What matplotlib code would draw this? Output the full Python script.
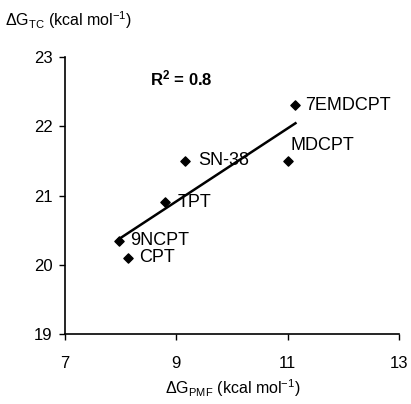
import numpy as np
import matplotlib
matplotlib.use("Agg")
import matplotlib.pyplot as plt

plt.rcParams['font.family'] = ['Liberation Sans', 'DejaVu Sans']
plt.rcParams['mathtext.fontset'] = 'custom'
plt.rcParams['mathtext.rm'] = 'Liberation Sans'
plt.rcParams['mathtext.it'] = 'Liberation Sans'
plt.rcParams['mathtext.bf'] = 'Liberation Sans:bold'

# 数据
names = ['CPT', '9NCPT', 'TPT', 'SN-38', 'MDCPT', '7EMDCPT']
dg_pmf = [8.14, 7.97, 8.80, 9.15, 11.00, 11.14]
dg_tc = [20.10, 20.35, 20.90, 21.50, 21.50, 22.30]
label_offsets = [(8, 0), (8, 0), (9, 0), (10, 0), (2, 11), (7, 0)]

fig = plt.figure(figsize=(4.11, 4.04), dpi=100)
ax = fig.add_axes([65 / 411, 1 - 334 / 404, 334 / 411, 277 / 404])

ax.scatter(dg_pmf, dg_tc, marker='D', s=22, color='black', zorder=3)

# 线性拟合
x = np.array(dg_pmf)
y = np.array(dg_tc)
k, b = np.polyfit(x, y, 1)
xs = np.array([x.min(), x.max()])
ax.plot(xs, k * xs + b, color='black', lw=1.8, zorder=2)

for n, px, py, off in zip(names, dg_pmf, dg_tc, label_offsets):
    ax.annotate(n, (px, py), xytext=off, textcoords='offset points',
                ha='left', va='center', fontsize=13)

ax.text(150 / 411, 1 - 78 / 404, 'R$^\\mathbf{2}$ = 0.8', transform=fig.transFigure,
        fontsize=12, fontweight='bold', ha='left', va='center')

ax.set_xlim(7, 13)
ax.set_ylim(19, 23)
ax.set_xticks([7, 9, 11, 13])
ax.set_yticks([19, 20, 21, 22, 23])
ax.tick_params(direction='out', length=4, width=1, labelsize=12)
ax.tick_params(axis='y', pad=5)
ax.tick_params(axis='x', pad=12)
for s in ['top', 'right']:
    ax.spines[s].set_visible(False)
for s in ['left', 'bottom']:
    ax.spines[s].set_linewidth(1.2)

fig.text(5 / 411, 1 - 20 / 404, '$\\Delta$G$_{\\mathregular{TC}}$ (kcal mol$^{\\mathregular{-1}}$)',
         fontsize=11.5, ha='left', va='center')
fig.text(233 / 411, 1 - 388 / 404, '$\\Delta$G$_{\\mathregular{PMF}}$ (kcal mol$^{\\mathregular{-1}}$)',
         fontsize=11.5, ha='center', va='center')

fig.savefig('out.png', dpi=100)
